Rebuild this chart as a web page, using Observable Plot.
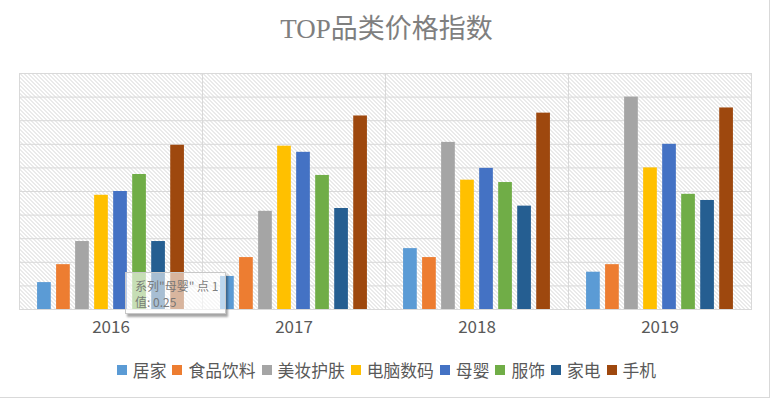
<!DOCTYPE html>
<html>
<head>
<meta charset="utf-8">
<script src="https://cdn.jsdelivr.net/npm/d3@7"></script>
<script src="https://cdn.jsdelivr.net/npm/@observablehq/plot@0.6"></script>
<style>
  html, body { margin: 0; padding: 0; background: #fff; }
  #chart { position: relative; width: 773px; height: 405px; overflow: hidden;
           font-family: "Noto Sans CJK SC", "Noto Sans", sans-serif; }
  #border { position: absolute; left: -1px; top: -1px; width: 770px; height: 398px;
            border-right: 1px solid #d9d9d9; border-bottom: 1px solid #d9d9d9; }
  #title { position: absolute; left: 0; width: 773px; top: 11px; text-align: center;
           font-family: "Liberation Serif", "Noto Sans CJK SC", serif; font-size: 27px;
           color: #7f7f7f; line-height: 36px; }
  #plot { position: absolute; left: 0; top: 50px; }
  #legend { position: absolute; left: 0; width: 773px; top: 358px; height: 24px;
            display: flex; justify-content: center; align-items: center;
            font-size: 16.8px; color: #595959; line-height: 24px; }
  .item { display: flex; align-items: center; margin: 0 3px; }
  .item .sw { width: 10px; height: 10px; margin-right: 6px; }
  #tip { position: absolute; left: 125px; top: 272px; width: 101px; height: 42px;
         background: rgba(255,255,255,0.6); border: 1px solid #c8c8c8;
         box-shadow: 2px 3px 2px rgba(0,0,0,0.35); color: rgba(110,110,110,0.9);
         font-size: 12px; padding: 5px 0 0 9px; box-sizing: border-box; }
  #tip div { height: 16px; line-height: 16px; white-space: nowrap; }
</style>
</head>
<body>
<div id="chart">
  <div id="border"></div>
  <div id="title">TOP品类价格指数</div>
  <div id="plot"></div>
  <div id="legend"></div>
  <div id="tip"></div>
</div>
<script>
// Years on the axis and the eight product categories
const years = ["2016", "2017", "2018", "2019"];
const categories = ["居家", "食品饮料", "美妆护肤", "电脑数码", "母婴", "服饰", "家电", "手机"];
const colors = ["#5b9bd5", "#ed7d31", "#a5a5a5", "#ffc000", "#4472c4", "#70ad47", "#255e91", "#9e480e"];

// Price index per category, one value per year
const juJia      = [0.057, 0.070, 0.129, 0.079];
const shiPin     = [0.095, 0.110, 0.110, 0.095];
const meiZhuang  = [0.144, 0.208, 0.354, 0.450];
const dianNao    = [0.242, 0.346, 0.274, 0.300];
const muYing     = [0.25, 0.333, 0.299, 0.350];
const fuShi      = [0.286, 0.284, 0.269, 0.244];
const jiaDian    = [0.144, 0.214, 0.219, 0.231];
const shouJi     = [0.348, 0.410, 0.416, 0.427];
const series = [juJia, shiPin, meiZhuang, dianNao, muYing, fuShi, jiaDian, shouJi];

// Horizontal gridline positions
const yTicks = [0, 0.05, 0.1, 0.15, 0.2, 0.25, 0.3, 0.35, 0.4, 0.45, 0.5];

const rows = [];
categories.forEach((cat, i) => {
  years.forEach((year, j) => rows.push({cat, year, value: series[i][j]}));
});

const color = {domain: categories, range: colors};

const plot = Plot.plot({
  width: 773,
  height: 295,
  marginTop: 23,
  marginBottom: 36,
  marginLeft: 18.5,
  marginRight: 22,
  style: {fontSize: "17px", fontFamily: "'Noto Sans CJK SC', sans-serif", color: "#595959", background: "transparent"},
  fx: {domain: years, padding: 0, axis: "bottom", tickSize: 0, tickPadding: 11, label: null},
  x: {domain: categories, paddingInner: 0.28, paddingOuter: 0.95, round: false, axis: null},
  y: {domain: [0, 0.5], axis: null},
  color,
  marks: [
    Plot.frame({fill: "url(#hatch)", stroke: "none"}),
    Plot.ruleY(yTicks, {stroke: "#d9d9d9", strokeWidth: 1}),
    Plot.barY(rows, {fx: "year", x: "cat", y: "value", fill: "cat"}),
    Plot.frame({stroke: "#d9d9d9", strokeWidth: 1})
  ]
});

// Diagonal hatching used as the plot background
const defs = d3.select(plot).insert("defs", ":first-child");
const pat = defs.append("pattern")
  .attr("id", "hatch").attr("patternUnits", "userSpaceOnUse")
  .attr("width", 4).attr("height", 4);
pat.append("path")
  .attr("d", "M-1,-1L5,5M3,-1L5,1M-1,3L1,5")
  .attr("stroke", "#c9c9c9").attr("stroke-width", 0.8);

document.getElementById("plot").appendChild(plot);

// Legend: swatch colours come from the plot's own color scale
const colorScale = plot.scale("color");
const legend = d3.select("#legend");
categories.forEach(cat => {
  const item = legend.append("div").attr("class", "item");
  item.append("div").attr("class", "sw").style("background", colorScale.apply(cat));
  item.append("span").text(cat);
});

// Hover box for the 母婴 series, first point
const tip = d3.select("#tip");
tip.append("div").text(`系列"${categories[4]}" 点 1`);
tip.append("div").text(`值: ${muYing[0]}`);
</script>
</body>
</html>
